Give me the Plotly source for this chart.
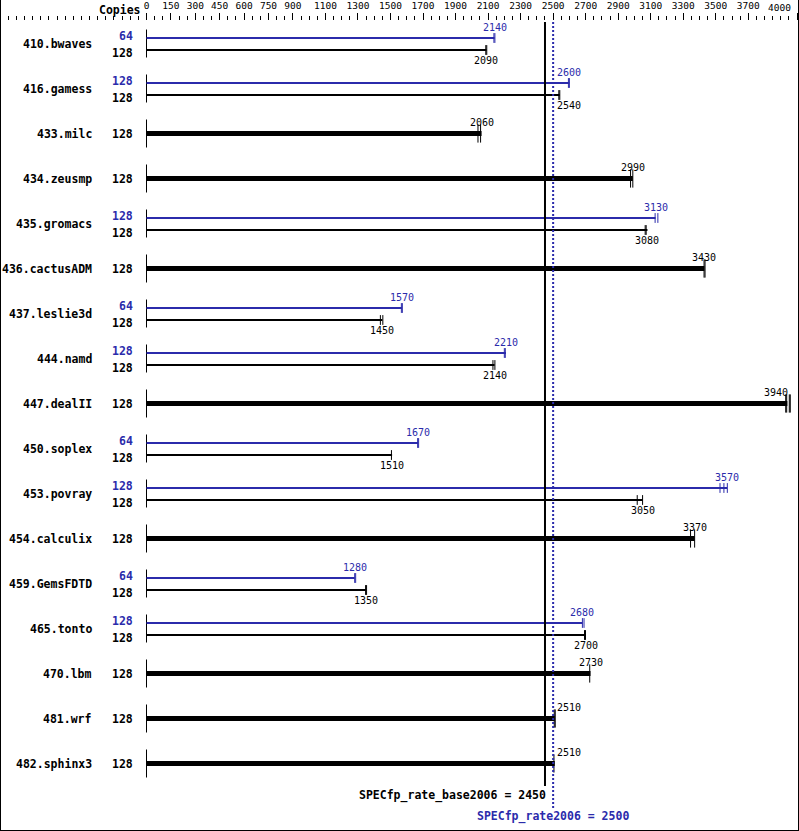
import plotly.graph_objects as go

# ---------------- data ----------------
benchmarks = ["410.bwaves", "416.gamess", "433.milc", "434.zeusmp", "435.gromacs",
              "436.cactusADM", "437.leslie3d", "444.namd", "447.dealII", "450.soplex",
              "453.povray", "454.calculix", "459.GemsFDTD", "465.tonto", "470.lbm",
              "481.wrf", "482.sphinx3"]
peak_copies = [64, 128, None, None, 128, None, 64, 128, None, 64, 128, None, 64, 128, None, None, None]
base_copies = [128] * 17
peak_values = [2140, 2600, None, None, 3130, None, 1570, 2210, None, 1670, 3570, None, 1280, 2680, None, None, None]
base_values = [2090, 2540, 2060, 2990, 3080, 3430, 1450, 2140, 3940, 1510, 3050, 3370, 1350, 2700, 2730, 2510, 2510]
# individual run marks
peak_runs = [[2136, 2142], [2594, 2600], [], [], [3127, 3144], [], [1567, 1573], [2200, 2206], [],
             [1667, 1673], [3526, 3550, 3571], [], [1280, 1286], [2680, 2690], [], [], []]
base_runs = [[2086, 2092], [2535, 2541], [2038, 2054], [2976, 2990], [3066, 3072], [3428, 3434],
             [1438, 1453], [2130, 2142], [3930, 3936, 3952, 3958], [1506], [3017, 3050],
             [3345, 3370], [1347, 1353], [2693, 2699], [2725], [2507, 2513], [2505]]
base_score = 2450
peak_score = 2500
base_label = "SPECfp_rate_base2006 = 2450"
peak_label = "SPECfp_rate2006 = 2500"
tick_values = [0, 150, 300, 450, 600, 750, 900, 1100, 1300, 1500, 1700, 1900, 2100, 2300,
               2500, 2700, 2900, 3100, 3300, 3500, 3700, 4000]
axis_max = 4000

# ---------------- style ----------------
BLUE = "#2b2bab"
BLACK = "#000000"
W, H = 799, 831
TOP = 21
ROW_PX = 45
PX_PER_UNIT = 0.16265
ZERO_PX = 146.5
UPP = 1 / PX_PER_UNIT  # units per pixel
BOLD = dict(family="DejaVu Sans Mono", size=11.5, weight="bold")
THIN = dict(family="DejaVu Sans Mono", size=10)

def off(px):
    return px / ROW_PX

n = len(benchmarks)
fig = go.Figure()

# row axis segments
sx, sy = [], []
for i in range(n):
    sx += [0, 0, None]
    sy += [i - off(14), i + off(14), None]
fig.add_trace(go.Scatter(x=sx, y=sy, mode="lines", line=dict(color=BLACK, width=1),
                         hoverinfo="skip", showlegend=False))

blue_x, blue_y, thin_x, thin_y, thick_x, thick_y = [], [], [], [], [], []
tb_x, tb_y, tk_x, tk_y, tt_x, tt_y = [], [], [], [], [], []
annotations = []

def label_pos(v):
    half = 12 * UPP
    if v + half > axis_max:
        return dict(x=v, xanchor="right", xshift=3)
    if abs(v - (base_score + peak_score) / 2) < half + 40:
        return dict(x=peak_score, xanchor="left", xshift=2)
    return dict(x=v, xanchor="center", xshift=0)

for i in range(n):
    annotations.append(dict(text=benchmarks[i], xref="paper", x=93.5 / W, yref="y", y=i,
                            xanchor="right", yanchor="middle", showarrow=False,
                            font=dict(**BOLD, color=BLACK)))
    if peak_values[i] is not None:
        pv, bv = peak_values[i], base_values[i]
        blue_x += [0, pv, None]; blue_y += [i - off(5.5), i - off(5.5), None]
        thin_x += [0, bv, None]; thin_y += [i + off(6.5), i + off(6.5), None]
        for r in peak_runs[i]:
            tb_x.append(r); tb_y.append(i - off(5.5))
        for r in base_runs[i]:
            tk_x.append(r); tk_y.append(i + off(6.5))
        annotations.append(dict(text=str(peak_copies[i]), xref="paper", x=134.5 / W, yref="y",
                                y=i - off(8), xanchor="right", yanchor="middle", showarrow=False,
                                font=dict(**BOLD, color=BLUE)))
        annotations.append(dict(text=str(base_copies[i]), xref="paper", x=134.5 / W, yref="y",
                                y=i + off(9.5), xanchor="right", yanchor="middle", showarrow=False,
                                font=dict(**BOLD, color=BLACK)))
        annotations.append(dict(text=str(pv), xref="x", yref="y", y=i - off(16.5), yanchor="middle",
                                showarrow=False, font=dict(**THIN, color=BLUE), **label_pos(pv)))
        annotations.append(dict(text=str(bv), xref="x", yref="y", y=i + off(17), yanchor="middle",
                                showarrow=False, font=dict(**THIN, color=BLACK), **label_pos(bv)))
    else:
        bv = base_values[i]
        thick_x += [0, bv, None]; thick_y += [i, i, None]
        for r in base_runs[i]:
            tt_x.append(r); tt_y.append(i)
        annotations.append(dict(text=str(base_copies[i]), xref="paper", x=134.5 / W, yref="y",
                                y=i, xanchor="right", yanchor="middle", showarrow=False,
                                font=dict(**BOLD, color=BLACK)))
        annotations.append(dict(text=str(bv), xref="x", yref="y", y=i - off(11.5), yanchor="middle",
                                showarrow=False, font=dict(**THIN, color=BLACK), **label_pos(bv)))

fig.add_trace(go.Scatter(x=blue_x, y=blue_y, mode="lines", line=dict(color=BLUE, width=2),
                         hoverinfo="skip", showlegend=False))
fig.add_trace(go.Scatter(x=thin_x, y=thin_y, mode="lines", line=dict(color=BLACK, width=2),
                         hoverinfo="skip", showlegend=False))
fig.add_trace(go.Scatter(x=thick_x, y=thick_y, mode="lines", line=dict(color=BLACK, width=5),
                         hoverinfo="skip", showlegend=False))
fig.add_trace(go.Scatter(x=tb_x, y=tb_y, mode="markers",
                         marker=dict(symbol="line-ns", size=7, line=dict(color=BLUE, width=1)),
                         hoverinfo="skip", showlegend=False))
fig.add_trace(go.Scatter(x=tk_x, y=tk_y, mode="markers",
                         marker=dict(symbol="line-ns", size=7, line=dict(color=BLACK, width=1)),
                         hoverinfo="skip", showlegend=False))
fig.add_trace(go.Scatter(x=tt_x, y=tt_y, mode="markers",
                         marker=dict(symbol="line-ns", size=13, line=dict(color=BLACK, width=1)),
                         hoverinfo="skip", showlegend=False))

# header / footer text
annotations.append(dict(text="Copies", xref="paper", x=142.5 / W, yref="paper",
                        y=1 + (TOP - 10) / (H - TOP), xanchor="right", yanchor="middle",
                        showarrow=False, font=dict(**BOLD, color=BLACK)))
annotations.append(dict(text=str(tick_values[-1]), xref="x", x=tick_values[-1], yref="paper",
                        y=1 + (TOP - 7) / (H - TOP), xanchor="right", xshift=-4, yanchor="middle",
                        showarrow=False, font=dict(family="DejaVu Sans Mono", size=9.5, color=BLACK)))
annotations.append(dict(text=base_label, xref="x", x=base_score, xshift=3, xanchor="right",
                        yref="paper", y=(H - 795) / (H - TOP), yanchor="middle", showarrow=False,
                        font=dict(**BOLD, color=BLACK)))
annotations.append(dict(text=peak_label, xref="x", x=peak_score, xanchor="center",
                        yref="paper", y=(H - 816) / (H - TOP), yanchor="middle", showarrow=False,
                        font=dict(**BOLD, color=BLUE)))

shapes = [
    dict(type="line", xref="x", x0=base_score, x1=base_score, yref="paper",
         y0=(H - 786) / (H - TOP), y1=1 - 1 / (H - TOP), line=dict(color=BLACK, width=2)),
    dict(type="line", xref="x", x0=peak_score, x1=peak_score, yref="paper",
         y0=(H - 808) / (H - TOP), y1=1 - 1 / (H - TOP), line=dict(color=BLUE, width=2, dash="2px,2px")),
    # frame
    dict(type="line", xref="paper", x0=0.5 / W, x1=0.5 / W, yref="paper", y0=0, y1=1 + TOP / (H - TOP),
         line=dict(color=BLACK, width=1)),
    dict(type="line", xref="paper", x0=798.5 / W, x1=798.5 / W, yref="paper", y0=0, y1=1 + TOP / (H - TOP),
         line=dict(color=BLACK, width=1)),
    dict(type="line", xref="paper", x0=0, x1=1, yref="paper", y0=0.5 / (H - TOP), y1=0.5 / (H - TOP),
         line=dict(color=BLACK, width=1)),
]

x_left = -ZERO_PX * UPP
x_right = x_left + W * UPP
ticktext = [str(v) for v in tick_values[:-1]] + [""]

fig.update_layout(
    width=W, height=H, margin=dict(l=0, r=0, t=TOP, b=0),
    paper_bgcolor="white", plot_bgcolor="white",
    annotations=annotations, shapes=shapes, showlegend=False,
    xaxis=dict(range=[x_left, x_right], side="top", showgrid=False, zeroline=False, showline=False,
               tickmode="array", tickvals=tick_values, ticktext=ticktext,
               ticks="outside", ticklen=7, tickwidth=1, tickcolor=BLACK,
               tickfont=dict(family="DejaVu Sans Mono", size=9.5, color=BLACK),
               minor=dict(tickmode="linear", tick0=0, dtick=50, ticks="outside", ticklen=4,
                          tickwidth=1, tickcolor=BLACK, showgrid=False),
               fixedrange=True),
    yaxis=dict(range=[(H - TOP - 22.5) / ROW_PX, -22.5 / ROW_PX], visible=False, fixedrange=True),
)

fig.write_html("out.html", config={"displayModeBar": False},
               post_script="document.body.style.margin='0';document.body.style.overflow='hidden';")
